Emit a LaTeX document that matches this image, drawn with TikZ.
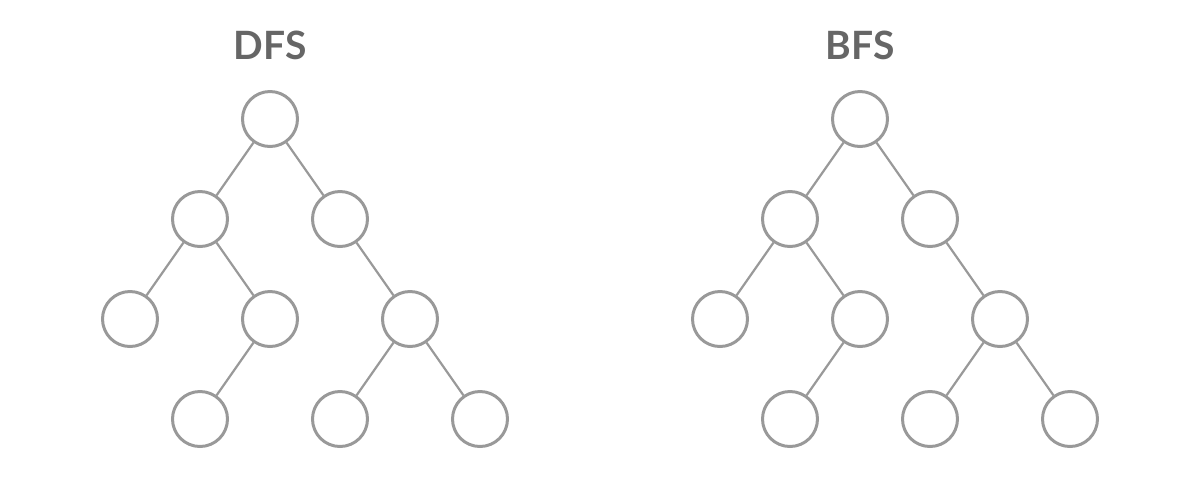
\documentclass[tikz,border=0pt]{standalone}
\usepackage{fontspec}
\setmainfont{Lato}
\usepackage{tikz}
\usetikzlibrary{positioning}
\definecolor{nodegray}{HTML}{999999}
\definecolor{titlegray}{HTML}{666666}
\tikzset{vertex/.style={circle,draw=nodegray,line width=1.5pt,minimum size=27.5pt,inner sep=0pt},
  edge/.style={draw=nodegray,line width=1.1pt},
  title/.style={text=titlegray,font=\fontsize{19.5}{20}\selectfont\bfseries}}
\begin{document}
\begin{tikzpicture}[x=0.5pt,y=-0.5pt]
\useasboundingbox (0,0) rectangle (1200,500);
%DFS tree
\node[title] (dfs) at (270,45) {DFS};
\node[vertex] (d1) at (270,119) {};
\node[vertex] (d2) at (200,219) {}; \node[vertex] (d3) at (340,219) {};
\node[vertex] (d4) at (130,319) {}; \node[vertex] (d5) at (270,319) {}; \node[vertex] (d6) at (410,319) {};
\node[vertex] (d7) at (200,419) {}; \node[vertex] (d8) at (340,419) {}; \node[vertex] (d9) at (480,419) {};
\draw[edge] (d1)--(d2); \draw[edge] (d1)--(d3);
\draw[edge] (d2)--(d4); \draw[edge] (d2)--(d5); \draw[edge] (d3)--(d6);
\draw[edge] (d5)--(d7); \draw[edge] (d6)--(d8); \draw[edge] (d6)--(d9);
%BFS tree
\node[title] (bfs) at (860,45) {BFS};
\node[vertex] (b1) at (860,119) {};
\node[vertex] (b2) at (790,219) {}; \node[vertex] (b3) at (930,219) {};
\node[vertex] (b4) at (720,319) {}; \node[vertex] (b5) at (860,319) {}; \node[vertex] (b6) at (1000,319) {};
\node[vertex] (b7) at (790,419) {}; \node[vertex] (b8) at (930,419) {}; \node[vertex] (b9) at (1070,419) {};
\draw[edge] (b1)--(b2); \draw[edge] (b1)--(b3);
\draw[edge] (b2)--(b4); \draw[edge] (b2)--(b5); \draw[edge] (b3)--(b6);
\draw[edge] (b5)--(b7); \draw[edge] (b6)--(b8); \draw[edge] (b6)--(b9);
\end{tikzpicture}
\end{document}
